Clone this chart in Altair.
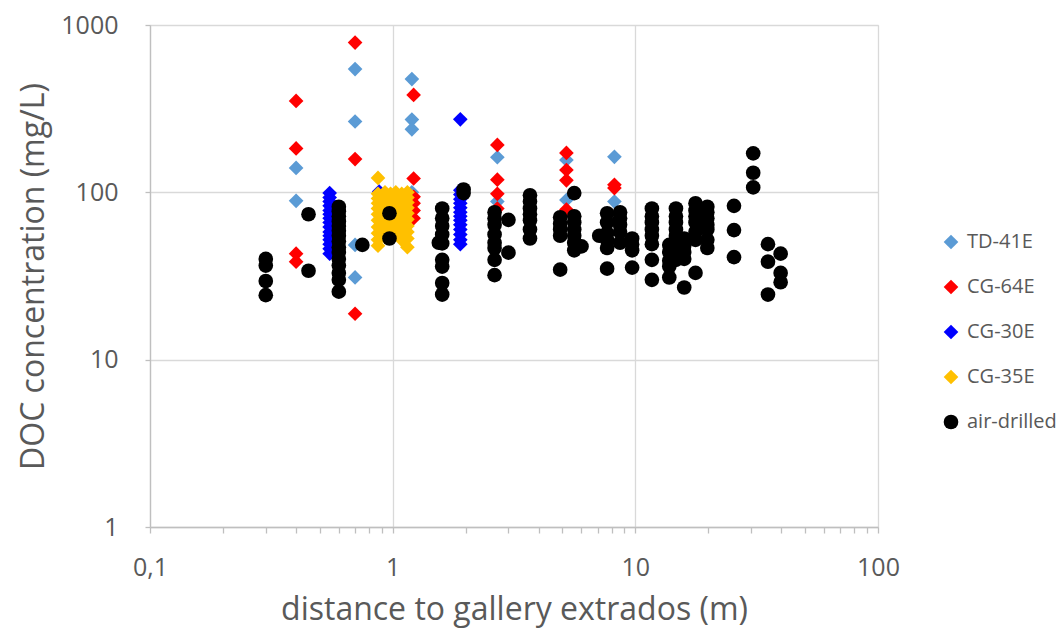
import altair as alt
import pandas as pd

# ---- data ----
td41e_x = [0.4, 0.4, 0.7, 0.7, 0.7, 0.7, 1.2, 1.2, 1.2, 1.2, 1.2, 2.7, 2.7, 5.2, 5.2, 8.2, 8.2]
td41e_y = [140, 89, 545, 265, 48.5, 31, 475, 272, 238, 100, 88, 162, 88, 156, 90, 163, 88]

cg64e_x = [0.4, 0.4, 0.4, 0.4, 0.7, 0.7, 0.7, 1.22, 1.22, 1.22, 1.22, 1.22, 1.22,
           2.7, 2.7, 2.7, 2.7, 5.2, 5.2, 5.2, 5.2, 8.2, 8.2]
cg64e_y = [352, 183, 43, 38.5, 785, 158, 18.8, 382, 121, 94, 86, 78, 70,
           192, 119, 98, 80, 172, 136, 118, 79, 111, 106]

cg30e_x = [0.55] * 15 + [0.88] + [1.9] * 14
cg30e_y = [99, 93, 88, 83, 78, 74, 70, 66, 62, 58, 55, 52, 49, 46, 43,
           101,
           273, 103, 97, 91, 86, 81, 76, 72, 68, 64, 60, 56, 52, 49]

cg35e_x = ([0.87] * 11 + [0.93] * 9 + [0.98] * 8 + [1.03] * 9 + [1.09] * 9 + [1.15] * 10)
cg35e_y = ([122, 98, 92, 86, 80, 74, 68, 62, 57, 52, 48,
            100, 94, 88, 82, 76, 70, 64, 58, 54,
            98, 92, 85, 79, 72, 66, 60, 55,
            100, 95, 89, 83, 77, 71, 65, 60, 56,
            98, 92, 86, 80, 74, 68, 62, 57, 52,
            100, 93, 87, 81, 75, 69, 63, 58, 53, 47])

air_x = ([0.3] * 4 + [0.45] * 2 + [0.6] * 15 + [0.75] + [0.97] * 2 + [1.55] +
         [1.6] * 9 + [1.96] * 2 + [2.63] * 8 + [3.0] * 2 + [3.68] * 7 +
         [4.9] * 5 + [5.6] * 7 + [6.0] + [7.1] + [7.65] * 6 + [8.65] * 5 +
         [9.7] * 4 + [11.7] * 8 + [13.8] * 5 + [14.7] * 9 + [15.9] * 5 +
         [17.7] * 7 + [19.8] * 7 + [25.5] * 3 + [30.6] * 3 + [35.2] * 3 + [39.7] * 3)
air_y = ([40, 36.5, 29.5, 24.3] + [74, 34] +
         [82, 77, 72, 67, 63, 59, 55, 51, 47, 44, 40, 36.5, 33, 30, 25.5] +
         [48.5] + [75, 53] + [50] +
         [80, 70, 63, 56, 49.5, 39.5, 36, 28.7, 24.5] + [104, 99] +
         [76, 70, 64, 56, 50, 46.5, 39.5, 32] + [68.5, 43.6] +
         [96, 88, 80, 74, 68, 60, 53] +
         [71, 65, 60, 55, 34.5] + [99, 72, 66, 60, 55, 50, 45] + [47.5] + [55] +
         [75, 66, 57, 52, 46.5, 35] + [76, 70, 64, 58, 50] +
         [53, 49, 45, 35.5] + [80, 72, 66, 60, 55, 49, 39.5, 30] +
         [48.5, 44, 39, 36, 31] + [80, 72, 66, 60, 55, 50, 46, 42, 39.5] +
         [53, 48, 44, 40, 27] + [86, 78, 72, 66, 58, 52, 33] +
         [82, 76, 70, 64, 60, 52, 46.5] + [83, 59.5, 41] + [171, 131, 107] +
         [49, 38.5, 24.5] + [43, 33, 29])

series_names = ["TD-41E", "CG-64E", "CG-30E", "CG-35E", "air-drilled"]
series_colors = ["#5B9BD5", "#FF0000", "#0000FF", "#FFC000", "#000000"]
series_shapes = ["diamond", "diamond", "diamond", "diamond", "circle"]

x_major = [0.1, 1, 10, 100]
x_minor = [0.2, 0.3, 0.4, 0.5, 0.6, 0.7, 0.8, 0.9,
           2, 3, 4, 5, 6, 7, 8, 9,
           20, 30, 40, 50, 60, 70, 80, 90]
y_major = [1, 10, 100, 1000]

frames = []
for name, xs, ys in zip(series_names,
                        [td41e_x, cg64e_x, cg30e_x, cg35e_x, air_x],
                        [td41e_y, cg64e_y, cg30e_y, cg35e_y, air_y]):
    frames.append(pd.DataFrame({"x": xs, "y": ys, "series": name}))
df = pd.concat(frames, ignore_index=True)
df["order"] = range(len(df))

FONT = "Open Sans"
GRAY = "#595959"
is_major = "abs(log(datum.value)/LN10 - round(log(datum.value)/LN10)) < 1e-6"

chart = alt.Chart(df).mark_point(filled=True, opacity=1, strokeWidth=0).encode(
    x=alt.X("x:Q",
            scale=alt.Scale(type="log", domain=[0.1, 100], nice=False),
            axis=alt.Axis(
                values=x_major + x_minor,
                title="distance to gallery extrados (m)",
                labelExpr=f"({is_major}) ? (datum.value == 0.1 ? '0,1' : format(datum.value, 'd')) : ''",
                grid=True,
                gridColor="#D9D9D9",
                gridWidth=1.3,
                gridOpacity={"condition": {"test": is_major, "value": 1}, "value": 0},
                domainColor="#BFBFBF",
                domainWidth=1.3,
                tickColor="#BFBFBF",
                tickWidth=1.3,
                tickSize=6,
                labelPadding=22,
                labelFontSize=25,
                labelColor=GRAY,
                labelFont=FONT,
                labelOverlap=False,
                labelFlush=False,
                titleFont=FONT,
                titleFontSize=32,
                titleFontWeight="normal",
                titleColor=GRAY,
                titlePadding=14,
            )),
    y=alt.Y("y:Q",
            scale=alt.Scale(type="log", domain=[1, 1000], nice=False),
            axis=alt.Axis(
                values=y_major,
                format="d",
                title="DOC concentration (mg/L)",
                grid=True,
                gridColor="#D9D9D9",
                gridWidth=1.3,
                domainColor="#BFBFBF",
                domainWidth=1.3,
                tickColor="#BFBFBF",
                tickWidth=1.3,
                tickSize=5,
                labelPadding=27,
                labelFontSize=25,
                labelColor=GRAY,
                labelFont=FONT,
                labelFlush=False,
                labelOverlap=False,
                titleFont=FONT,
                titleFontSize=32,
                titleFontWeight="normal",
                titleColor=GRAY,
                titlePadding=10,
            )),
    color=alt.Color("series:N",
                    scale=alt.Scale(domain=series_names, range=series_colors),
                    legend=alt.Legend(
                        title=None,
                        orient="none",
                        legendX=791,
                        legendY=207,
                        padding=0,
                        rowPadding=25,
                        symbolSize=190,
                        symbolStrokeWidth=0,
                        labelFont=FONT,
                        labelFontSize=20,
                        labelColor=GRAY,
                        labelOffset=6,
                    )),
    shape=alt.Shape("series:N",
                    scale=alt.Scale(domain=series_names, range=series_shapes),
                    legend=None),
    size=alt.Size("series:N",
                  scale=alt.Scale(domain=series_names, range=[215, 215, 215, 215, 245]),
                  legend=None),
    order=alt.Order("order:Q"),
).properties(
    width=728,
    height=502,
    autosize=alt.AutoSizeParams(type="none"),
    padding={"left": 150, "top": 25, "right": 181, "bottom": 110},
).configure_view(stroke=None).configure(background="white")

chart.save("out.html", embed_options={"renderer": "svg", "actions": False})
